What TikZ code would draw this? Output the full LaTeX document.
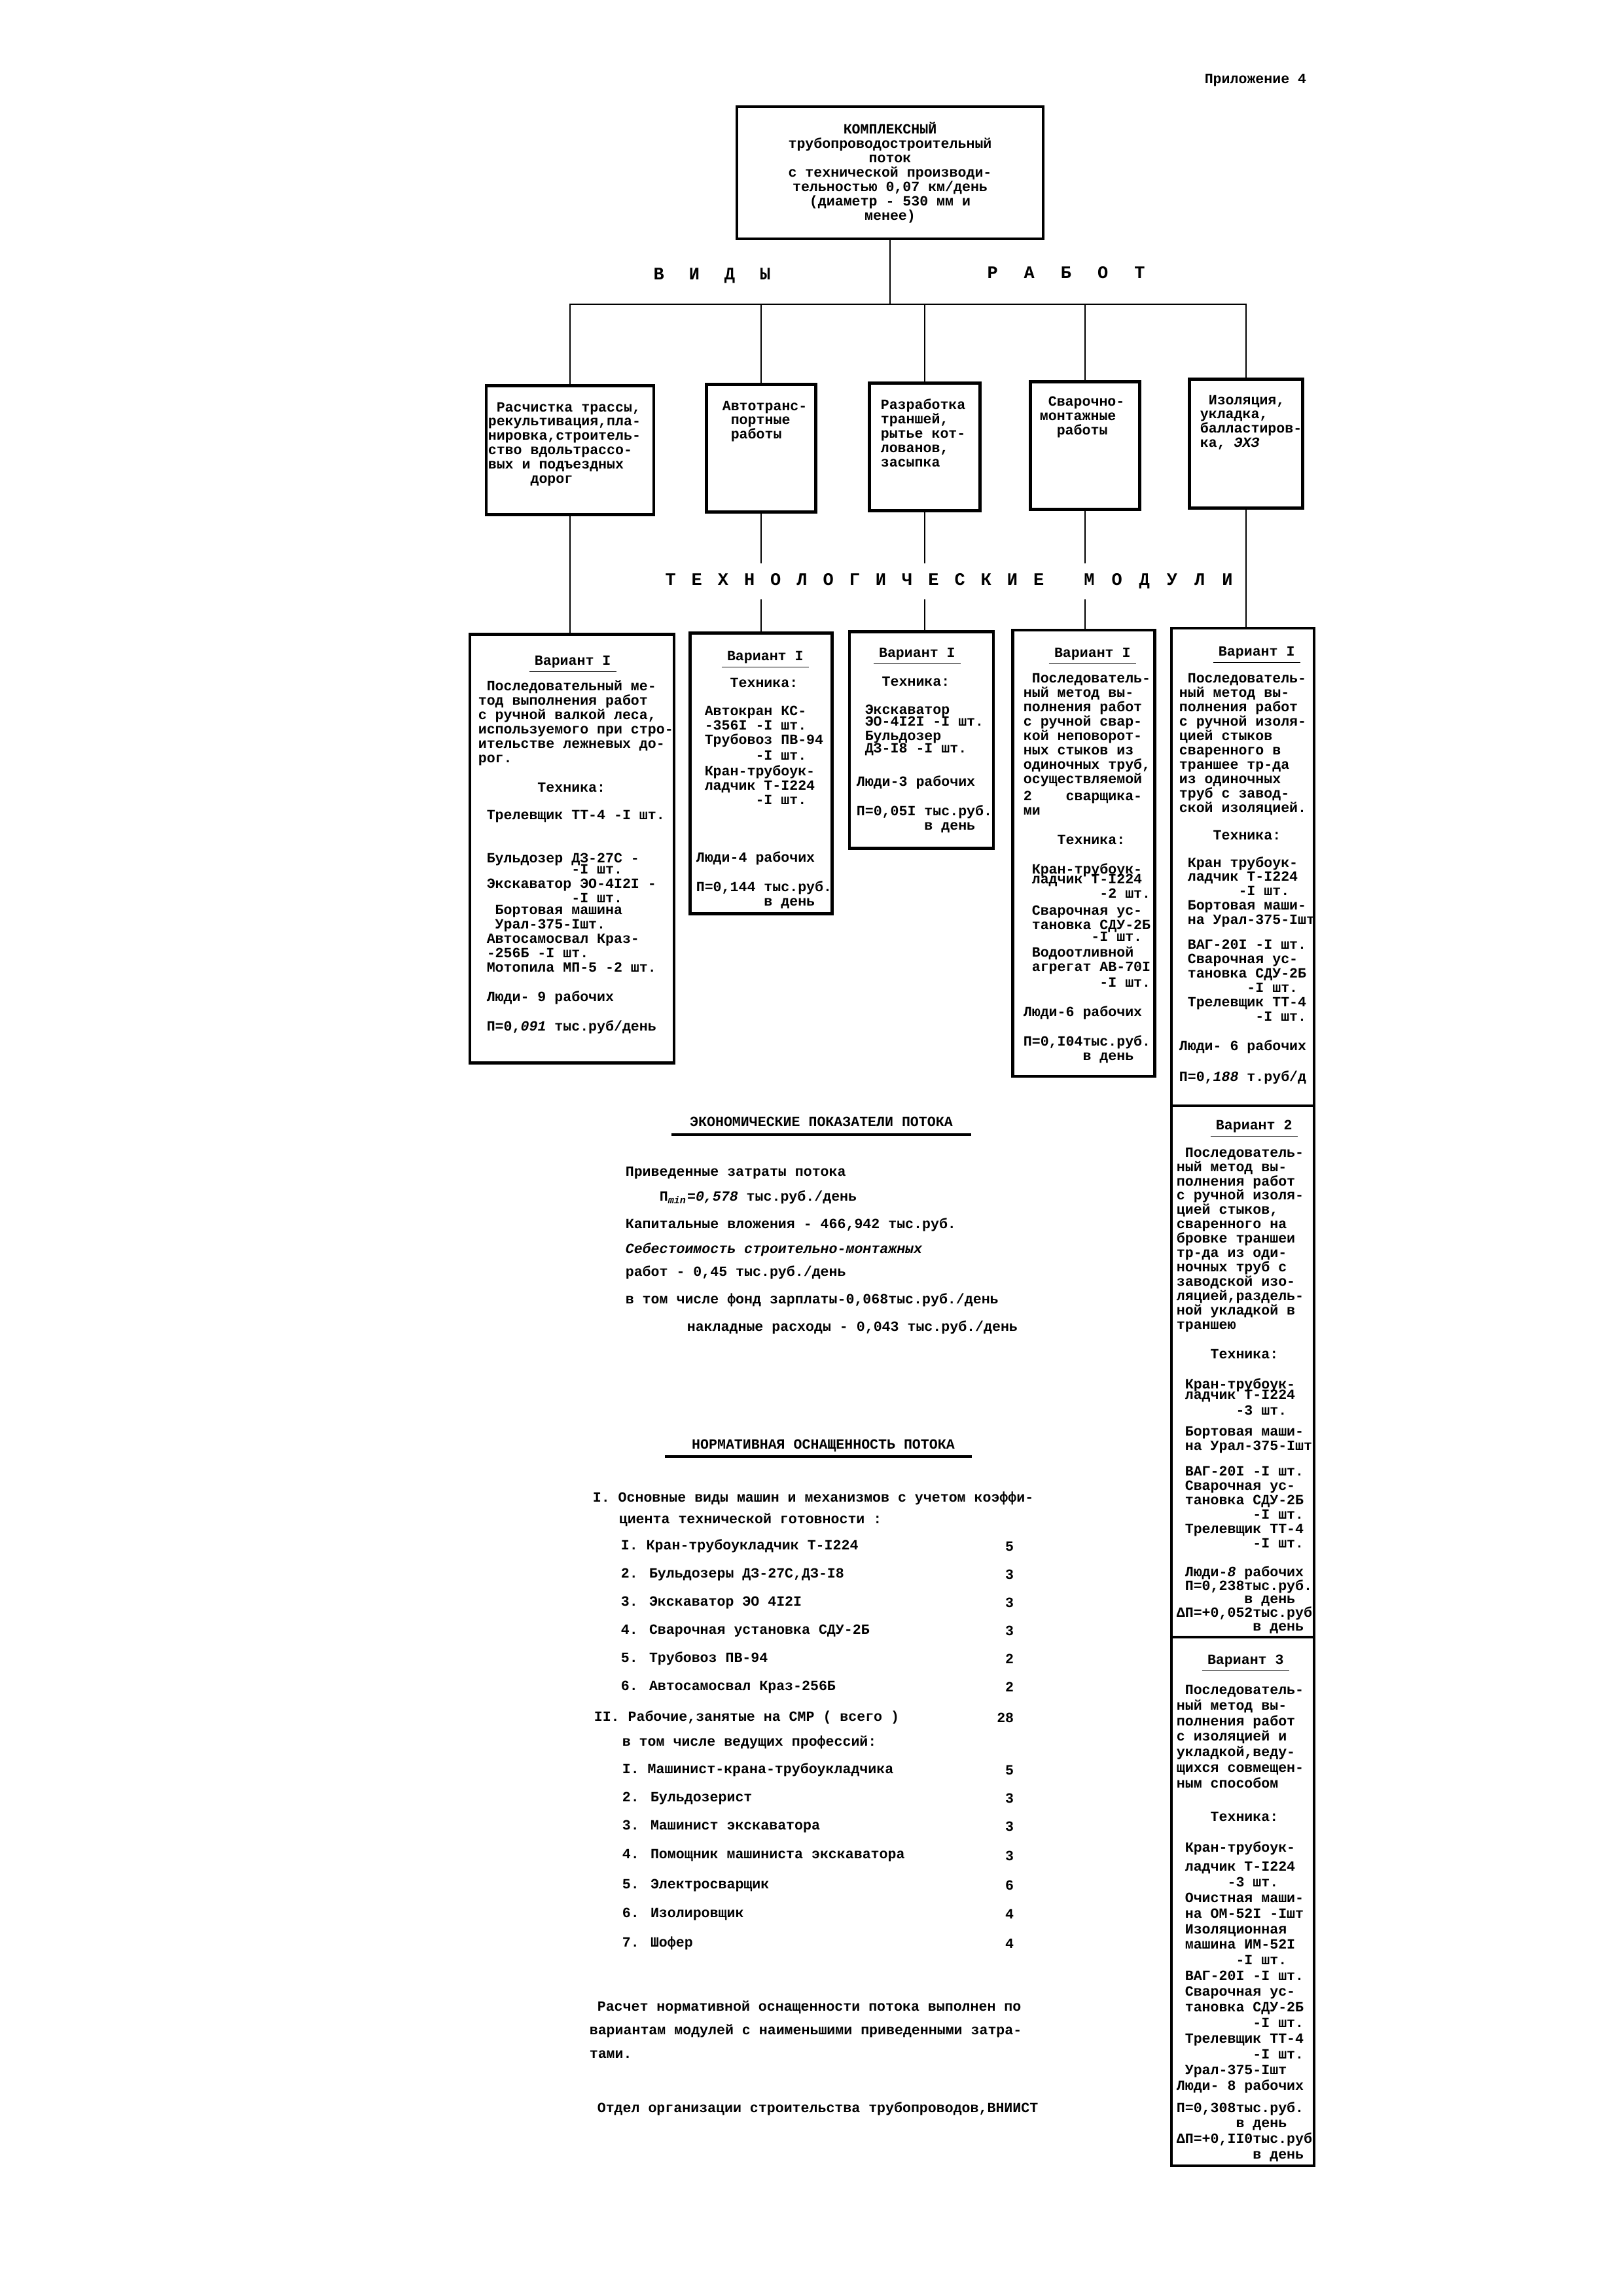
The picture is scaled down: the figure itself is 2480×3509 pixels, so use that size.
\documentclass[tikz,border=0pt]{standalone}
\usepackage{fontspec}
\setmainfont{Liberation Mono}
\newlength\pxu
\setlength\pxu{0.084667mm}
\newlength\chw
\setlength\chw{3.12pt}
\newcommand\tfont{\fontsize{5.2}{5.28}\bfseries\selectfont\lineskiplimit=-20pt\relax}
\newcommand\tfontw{\fontsize{5.2}{5.76}\bfseries\selectfont\lineskiplimit=-20pt\relax}
\newcommand\hfont{\fontsize{6.5}{7}\bfseries\selectfont}
\newcommand\skipch[1]{\hspace*{#1\chw}}
\newcommand\sk[1]{\hspace{#1\pxu}}
\newcommand\variant[1]{\underline{\kern2pt Вариант #1\kern2pt}}
\tikzset{
    frame/.style  = {draw, line width=1pt, inner sep=0pt},
    wire/.style   = {line width=0.7pt},
    note/.style   = {inner sep=0pt, anchor=north west, align=left, font=\tfont},
    doc/.style    = {inner sep=0pt, anchor=west, font=\tfont},
    spaced/.style = {inner sep=0pt, font=\hfont},
    rule/.style   = {line width=0.8pt}
}
\begin{document}
\begin{tikzpicture}[x=0.084667mm, y=-0.084667mm]
\path[fill=white] (0,0) rectangle (2480,3509);
\node[doc, anchor=east] (app) at (1997,123) {Приложение 4};

% Flow box and the kinds of work
\node[frame, align=center, font=\tfont, minimum width=468\pxu,
      minimum height=202\pxu] (root) at (1360,264)
    {КОМПЛЕКСНЫЙ\\ трубопроводостроительный\\ поток\\
     с технической производи-\\ тельностью 0,07 км/день\\
     (диаметр - 530 мм и\\ менее)};
\coordinate (bus) at (1360,465);
\node[spaced] (vid) at (1088,421) {В\sk{38}И\sk{38}Д\sk{38}Ы};
\node[spaced] (rab) at (1629,417) {Р\sk{40}А\sk{40}Б\sk{40}О\sk{40}Т};

\foreach \n/\x/\y/\w/\h in {w1/871/688/256/197, w2/1163/685/167/195,
    w3/1413/683/169/195, w4/1658/681/167/195, w5/1904/678/173/197,
    m1/874/1297/312/655, m2/1163/1182/217/429, m3/1408/1131/220/331,
    m4/1656/1304/217/682, m5/1899/2135/218/2350}
    \node[frame, minimum width=\w\pxu, minimum height=\h\pxu] (\n) at (\x,\y) {};

\node[note] (tw1) at (745,614) {\skipch{1}Расчистка трассы,\\ рекультивация,пла-\\
    нировка,строитель-\\ ство вдольтрассо-\\ вых и подъездных\\ \skipch{5}дорог};
\node[note] (tw2) at (1103,612) {Автотранс-\\ \skipch{1}портные\\ \skipch{1}работы};
\node[note] (tw3) at (1345,609) {Разработка\\ траншей,\\ рытье кот-\\ лованов,\\ засыпка};
\node[note] (tw4) at (1588,605) {\skipch{1}Сварочно-\\ монтажные\\ \skipch{2}работы};
\node[note] (tw5) at (1833,603) {\skipch{1}Изоляция,\\ укладка,\\ балластиров-\\ ка, \textit{ЭХЗ}};

% Module variants
\node[note] (tm1) at (730,1001) {\skipch{6}\variant{I}\\[18\pxu]
    \skipch{1}Последовательный ме-\\ тод выполнения работ\\ с ручной валкой леса,\\
    используемого при стро-\\ ительстве лежневых до-\\ рог.\\[23\pxu]
    \skipch{7}Техника:\\[20\pxu]
    \skipch{1}Трелевщик ТТ-4 -I шт.\\[44\pxu]
    \skipch{1}Бульдозер ДЗ-27С -\\[-5\pxu] \skipch{11}-I шт.\\
    \skipch{1}Экскаватор ЭО-4I2I -\\ \skipch{11}-I шт.\\[-3\pxu]
    \skipch{2}Бортовая машина\\ \skipch{2}Урал-375-Iшт.\\
    \skipch{1}Автосамосвал Краз-\\ \skipch{1}-256Б -I шт.\\
    \skipch{1}Мотопила МП-5 -2 шт.\\[23\pxu]
    \skipch{1}Люди- 9 рабочих\\[23\pxu]
    \skipch{1}П=0,\textit{091} тыс.руб/день};
\node[note] (tm2) at (1063,994) {\skipch{3}\variant{I}\\[20\pxu]
    \skipch{4}Техника:\\[21\pxu]
    \skipch{1}Автокран КС-\\ \skipch{1}-356I -I шт.\\ \skipch{1}Трубовоз ПВ-94\\[2\pxu]
    \skipch{7}-I шт.\\[2\pxu] \skipch{1}Кран-трубоук-\\ \skipch{1}ладчик Т-I224\\
    \skipch{7}-I шт.\\[66\pxu]
    Люди-4 рабочих\\[23\pxu]
    П=0,144 тыс.руб.\\ \skipch{8}в день};
\node[note] (tm3) at (1308,989) {\skipch{2}\variant{I}\\[23\pxu]
    \skipch{3}Техника:\\[21\pxu]
    \skipch{1}Экскаватор\\[-4\pxu] \skipch{1}ЭО-4I2I -I шт.\\
    \skipch{1}Бульдозер\\[-3\pxu] \skipch{1}ДЗ-I8 -I шт.\\[29\pxu]
    Люди-3 рабочих\\[23\pxu]
    П=0,05I тыс.руб.\\ \skipch{8}в день};
\node[note] (tm4) at (1563,989) {\skipch{3}\variant{I}\\[18\pxu]
    \skipch{1}Последователь-\\ ный метод вы-\\ полнения работ\\ с ручной свар-\\
    кой неповорот-\\ ных стыков из\\ одиночных труб,\\ осуществляемой\\[4\pxu]
    2\skipch{4}сварщика-\\ ми\\[23\pxu]
    \skipch{4}Техника:\\[23\pxu]
    \skipch{1}Кран-трубоук-\\[-6\pxu] \skipch{1}ладчик Т-I224\\ \skipch{9}-2 шт.\\[4\pxu]
    \skipch{1}Сварочная ус-\\ \skipch{1}тановка СДУ-2Б\\[-4\pxu] \skipch{8}-I шт.\\[2\pxu]
    \skipch{1}Водоотливной\\ \skipch{1}агрегат АВ-70I\\[2\pxu] \skipch{9}-I шт.\\[23\pxu]
    Люди-6 рабочих\\[23\pxu]
    П=0,I04тыс.руб.\\ \skipch{7}в день};

% The long column of the last module
\coordinate (d1) at (1899,1690);
\coordinate (d2) at (1899,2502);
\draw[frame] (m5.west |- d1) -- (m5.east |- d1);
\draw[frame] (m5.west |- d2) -- (m5.east |- d2);
\node[note] (tm5a) at (1801,987) {\skipch{4}\variant{I}\\[20\pxu]
    \skipch{1}Последователь-\\ ный метод вы-\\ полнения работ\\ с ручной изоля-\\
    цией стыков\\ сваренного в\\ траншее тр-да\\ из одиночных\\ труб с завод-\\
    ской изоляцией.\\[20\pxu]
    \skipch{4}Техника:\\[20\pxu]
    \skipch{1}Кран трубоук-\\ \skipch{1}ладчик Т-I224\\ \skipch{7}-I шт.\\
    \skipch{1}Бортовая маши-\\ \skipch{1}на Урал-375-Iшт\\[16\pxu]
    \skipch{1}ВАГ-20I -I шт.\\ \skipch{1}Сварочная ус-\\ \skipch{1}тановка СДУ-2Б\\
    \skipch{8}-I шт.\\ \skipch{1}Трелевщик ТТ-4\\ \skipch{9}-I шт.\\[23\pxu]
    Люди- 6 рабочих\\[25\pxu]
    П=0,\textit{188} т.руб/д};
\node[note] (tm5b) at (1797,1711) {\skipch{4}\variant{2}\\[20\pxu]
    \skipch{1}Последователь-\\ ный метод вы-\\ полнения работ\\ с ручной изоля-\\
    цией стыков,\\ сваренного на\\ бровке траншеи\\ тр-да из оди-\\ ночных труб с\\
    заводской изо-\\ ляцией,раздель-\\ ной укладкой в\\ траншею\\[23\pxu]
    \skipch{4}Техника:\\[24\pxu]
    \skipch{1}Кран-трубоук-\\[-5\pxu] \skipch{1}ладчик Т-I224\\[2\pxu] \skipch{7}-3 шт.\\[10\pxu]
    \skipch{1}Бортовая маши-\\ \skipch{1}на Урал-375-Iшт\\[17\pxu]
    \skipch{1}ВАГ-20I -I шт.\\ \skipch{1}Сварочная ус-\\ \skipch{1}тановка СДУ-2Б\\
    \skipch{9}-I шт.\\ \skipch{1}Трелевщик ТТ-4\\ \skipch{9}-I шт.\\[22\pxu]
    \skipch{1}Люди-\textit{8} рабочих\\[-1\pxu] \skipch{1}П=0,238тыс.руб.\\[-1\pxu]
    \skipch{8}в день\\[-1\pxu] ΔП=+0,052тыс.руб\\[-1\pxu] \skipch{9}в день};
\node[note, font=\tfontw] (tm5c) at (1797,2528) {\skipch{3}\variant{3}\\[22\pxu]
    \skipch{1}Последователь-\\ ный метод вы-\\ полнения работ\\ с изоляцией и\\
    укладкой,веду-\\ щихся совмещен-\\ ным способом\\[27\pxu]
    \skipch{4}Техника:\\[23\pxu]
    \skipch{1}Кран-трубоук-\\[5\pxu] \skipch{1}ладчик Т-I224\\ \skipch{6}-3 шт.\\
    \skipch{1}Очистная маши-\\ \skipch{1}на ОМ-52I -Iшт\\ \skipch{1}Изоляционная\\
    \skipch{1}машина ИМ-52I\\ \skipch{7}-I шт.\\ \skipch{1}ВАГ-20I -I шт.\\
    \skipch{1}Сварочная ус-\\ \skipch{1}тановка СДУ-2Б\\ \skipch{9}-I шт.\\
    \skipch{1}Трелевщик ТТ-4\\ \skipch{9}-I шт.\\ \skipch{1}Урал-375-Iшт\\
    Люди- 8 рабочих\\[10\pxu] П=0,308тыс.руб.\\ \skipch{7}в день\\
    ΔП=+0,II0тыс.руб\\ \skipch{9}в день};

% Connectors
\draw[wire] (root.south) -- (root.south |- bus);
\draw[wire] (w1.north) |- (bus) -| (w5.north);
\foreach \i in {2,3,4}
    \draw[wire] (w\i.north) -- (w\i.north |- bus);
\foreach \i in {1,...,5}
    \draw[wire] (w\i.south) -- (w\i.south |- m\i.north);
\node[spaced, fill=white, minimum height=55\pxu] (tmod) at (1450,888)
    {Т\sk{24}Е\sk{24}Х\sk{24}Н\sk{24}О\sk{24}Л\sk{24}О\sk{24}Г\sk{24}И\sk{24}Ч\sk{24}Е\sk{24}С\sk{24}К\sk{24}И\sk{24}Е\sk{61}М\sk{26}О\sk{26}Д\sk{26}У\sk{26}Л\sk{26}И};

% Economic indicators
\node[doc, anchor=center] (econ) at (1255,1714) {ЭКОНОМИЧЕСКИЕ ПОКАЗАТЕЛИ ПОТОКА};
\draw[rule] ([xshift=-27\pxu, yshift=-13\pxu]econ.base west)
    -- ([xshift=27\pxu, yshift=-13\pxu]econ.base east);
\foreach \xx/\yy/\lbl [count=\i] in {
    955/1793/{Приведенные затраты потока},
    1007/1830/{П\textsubscript{\itshape min}=\textit{0,578} тыс.руб./день},
    955/1872/{Капитальные вложения - 466,942 тыс.руб.},
    955/1910/{\itshape Себестоимость строительно-монтажных},
    955/1945/{работ - 0,45 тыс.руб./день},
    955/1987/{в том числе фонд зарплаты-0,068тыс.руб./день},
    1049/2029/{накладные расходы - 0,043 тыс.руб./день}}
    \node[doc] (ec\i) at (\xx,\yy) {\lbl};

% Normative equipment
\node[doc, anchor=center] (norm) at (1258,2209) {НОРМАТИВНАЯ ОСНАЩЕННОСТЬ ПОТОКА};
\draw[rule] ([xshift=-40\pxu, yshift=-12\pxu]norm.base west)
    -- ([xshift=25\pxu, yshift=-12\pxu]norm.base east);
\node[doc] (ma) at (905,2290) {I. Основные виды машин и механизмов с учетом коэффи-};
\node[doc] (mb) at (945,2323) {циента технической готовности :};
\foreach \yy/\lbl/\cnt [count=\i] in {
    2363/{I. Кран-трубоукладчик Т-I224}/5,
    2406/{2. Бульдозеры ДЗ-27С,ДЗ-I8}/3,
    2449/{3. Экскаватор ЭО 4I2I}/3,
    2492/{4. Сварочная установка СДУ-2Б}/3,
    2535/{5. Трубовоз ПВ-94}/2,
    2578/{6. Автосамосвал Краз-256Б}/2}
    {\node[doc] (mi\i) at (948,\yy) {\lbl};
     \node[doc, anchor=east] (mn\i) at (1550,\yy) {\cnt};}
\node[doc] (wa) at (907,2625) {II. Рабочие,занятые на СМР ( всего )};
\node[doc, anchor=east] (wn) at (1550,2625) {28};
\node[doc] (wb) at (950,2663) {в том числе ведущих профессий:};
\foreach \yy/\lbl/\cnt [count=\i] in {
    2705/{I. Машинист-крана-трубоукладчика}/5,
    2748/{2. Бульдозерист}/3,
    2791/{3. Машинист экскаватора}/3,
    2836/{4. Помощник машиниста экскаватора}/3,
    2881/{5. Электросварщик}/6,
    2925/{6. Изолировщик}/4,
    2970/{7. Шофер}/4}
    {\node[doc] (wi\i) at (950,\yy) {\lbl};
     \node[doc, anchor=east] (wc\i) at (1550,\yy) {\cnt};}
\node[doc] (pa) at (912,3068) {Расчет нормативной оснащенности потока выполнен по};
\node[doc] (pb) at (900,3104) {вариантам модулей с наименьшими приведенными затра-};
\node[doc] (pc) at (900,3140) {тами.};
\node[doc] (dept) at (912,3223) {Отдел организации строительства трубопроводов,ВНИИСТ};

\end{tikzpicture}
\end{document}
